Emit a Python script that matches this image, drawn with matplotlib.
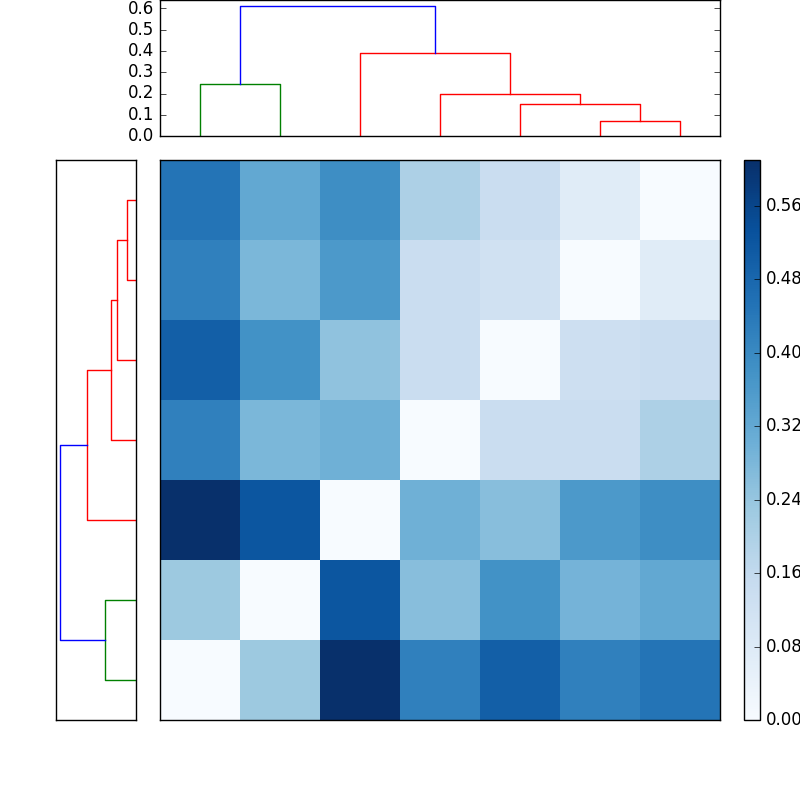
import numpy as np
import matplotlib
matplotlib.use('Agg')
import matplotlib.pyplot as plt
from matplotlib.ticker import FormatStrFormatter

plt.style.use('classic')

# distance matrix, row 0 = bottom row of the heatmap
D = np.array([
    [0.00, 0.23, 0.61, 0.42, 0.50, 0.42, 0.45],
    [0.23, 0.00, 0.52, 0.26, 0.38, 0.29, 0.32],
    [0.61, 0.52, 0.00, 0.30, 0.26, 0.36, 0.39],
    [0.42, 0.28, 0.30, 0.00, 0.14, 0.14, 0.20],
    [0.50, 0.38, 0.25, 0.14, 0.00, 0.13, 0.14],
    [0.42, 0.28, 0.36, 0.14, 0.12, 0.00, 0.07],
    [0.45, 0.32, 0.39, 0.20, 0.14, 0.07, 0.00],
])

# linkage: (node a, node b, height, colour); new nodes numbered from 7
merges = [
    (5, 6, 0.07, 'r'),
    (4, 7, 0.15, 'r'),
    (3, 8, 0.20, 'r'),
    (2, 9, 0.39, 'r'),
    (0, 1, 0.245, 'g'),
    (11, 10, 0.61, 'b'),
]


def dendro_lines():
    pos = {i: i + 0.5 for i in range(7)}
    hgt = {i: 0.0 for i in range(7)}
    lines = []
    for k, (a, b, h, c) in enumerate(merges):
        xs = [pos[a], pos[a], pos[b], pos[b]]
        ys = [hgt[a], h, h, hgt[b]]
        lines.append((xs, ys, c))
        pos[7 + k] = (pos[a] + pos[b]) / 2
        hgt[7 + k] = h
    return lines


fig = plt.figure(figsize=(8, 8), dpi=100, facecolor='white')

ax_top = fig.add_axes([0.2, 0.83, 0.7, 0.17])
ax_left = fig.add_axes([0.07, 0.1, 0.1, 0.7])
ax_heat = fig.add_axes([0.2, 0.1, 0.7, 0.7])
ax_cb = fig.add_axes([0.93, 0.1, 0.02, 0.7])

for xs, ys, c in dendro_lines():
    ax_top.plot(xs, ys, color=c, lw=1)
    ax_left.plot(ys, xs, color=c, lw=1)

ax_top.set_xlim(0, 7)
ax_top.set_ylim(0, 0.64)
ax_top.set_yticks(np.arange(0, 0.61, 0.1))
ax_top.yaxis.set_major_formatter(FormatStrFormatter('%.1f'))
ax_top.set_xticks([])

ax_left.set_ylim(0, 7)
ax_left.set_xlim(0.64, 0)
ax_left.set_xticks([])
ax_left.set_yticks([])

im = ax_heat.imshow(D, cmap='Blues', origin='lower', extent=(0, 7, 0, 7),
                    vmin=0, vmax=0.61, aspect='auto', interpolation='nearest')
ax_heat.set_xticks([])
ax_heat.set_yticks([])

cb = fig.colorbar(im, cax=ax_cb, ticks=np.arange(0, 0.57, 0.08))
cb.ax.yaxis.set_major_formatter(FormatStrFormatter('%.2f'))

fig.savefig('out.png', dpi=100, facecolor='white')
